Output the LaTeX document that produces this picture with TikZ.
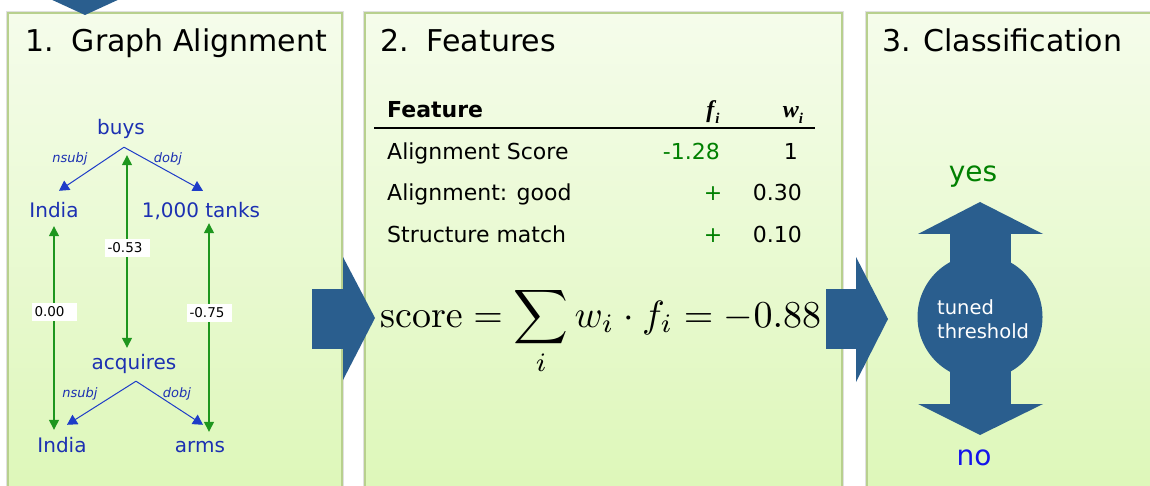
\documentclass[tikz,border=0pt]{standalone}
\usepackage[no-math]{fontspec}
\setmainfont{DejaVu Sans}
\newfontfamily\serifbi{Liberation Serif}
\usetikzlibrary{arrows.meta}
\definecolor{ptop}{RGB}{245,252,235}
\definecolor{pbot}{RGB}{220,247,182}
\definecolor{pborder}{RGB}{184,208,142}
\definecolor{flowblue}{RGB}{42,94,142}
\definecolor{gblue}{RGB}{28,48,178}
\definecolor{depblue}{RGB}{30,60,200}
\definecolor{agreen}{RGB}{30,150,30}
\definecolor{tgreen}{RGB}{0,128,0}
\definecolor{noblue}{RGB}{20,20,235}
\begin{document}
\begin{tikzpicture}[x=1pt,y=-1pt,
  panel/.style={draw=pborder, line width=1.2pt, top color=ptop, bottom color=pbot},
  panelshadow/.style={draw=black!12, line width=4pt},
  flow/.style={fill=flowblue, draw=none},
  title/.style={font=\fontsize{30}{36}\selectfont, anchor=base west, inner sep=0pt},
  word/.style={text=gblue, font=\fontsize{20}{24}\selectfont, inner sep=0pt, text height=15pt, text depth=5pt, anchor=base},
  dep/.style={draw=depblue, line width=1pt, -{Triangle[length=10pt,width=11pt]}},
  deplab/.style={text=gblue, font=\fontsize{13}{15}\selectfont\itshape, anchor=base, inner sep=0pt},
  alignedge/.style={draw=agreen, line width=1.3pt, {Triangle[length=10pt,width=10pt]}-{Triangle[length=10pt,width=10pt]}},
  simlab/.style={fill=white, font=\fontsize{13.5}{15}\selectfont, inner xsep=3pt, inner ysep=4pt, text width=39pt, align=left},
  cell/.style={font=\fontsize{22}{26}\selectfont, inner sep=0pt, anchor=base west},
  num/.style={font=\fontsize{22}{26}\selectfont, inner sep=0pt, anchor=base east},
  hdr/.style={font=\fontsize{24}{28}\serifbi\bfseries\itshape, inner sep=0pt, anchor=base},
  thrtext/.style={anchor=base west, inner sep=0pt, text=white, font=\fontsize{19.5}{24}\selectfont}
]
\useasboundingbox (0,0) rectangle (1150,486);
\clip (0,0) rectangle (1150,486);
\fill[white] (0,0) rectangle (1150,486);

% panels
\draw[panelshadow] (8,13) rectangle (342,520);
\draw[panelshadow] (365,13) rectangle (842,520);
\draw[panelshadow] (867,13) rectangle (1170,520);
\draw[panel] (8,13) rectangle (342,520);
\draw[panel] (365,13) rectangle (842,520);
\draw[panel] (867,13) rectangle (1170,520);

% titles
\node[title] (t1) at (25,52) {1.\hspace{0.6em}Graph Alignment};
\node[title] (t2) at (380,52) {2.\hspace{0.6em}Features};
\node[title] (t3) at (882,52) {3. Classification};

% incoming arrow at top
\fill[flow] (48,-2) -- (122,-2) -- (85,15) -- cycle;

% graph words
\node[word] (buys) at (121,135) {buys};
\node[word] (india1) at (54,218) {India};
\node[word] (tanks) at (201,218) {1,000 tanks};
\node[word] (acq) at (134,369) {acquires};
\node[word] (india2) at (62,452) {India};
\node[word] (arms) at (200,452) {arms};

% dependency edges
\draw[dep] ([shift={(3,7)}]buys.south) -- ([shift={(5,-12)}]india1.north);
\draw[dep] ([shift={(3,7)}]buys.south) -- ([shift={(2,-12)}]tanks.north);
\draw[dep] ([shift={(2,7)}]acq.south) -- ([shift={(5,-12)}]india2.north);
\draw[dep] ([shift={(2,7)}]acq.south) -- ([shift={(3,-12)}]arms.north);
\node[deplab] (l1) at (70,163) {nsubj};
\node[deplab] (l2) at (168,163) {dobj};
\node[deplab] (l3) at (80,397) {nsubj};
\node[deplab] (l4) at (177,397) {dobj};

% alignment edges
\draw[alignedge] ([shift={(0,3)}]india1.south) -- node[simlab, pos=0.42] (s1) {0.00} ([shift={(-8,-7)}]india2.north);
\draw[alignedge] ([shift={(6,15)}]buys.south) -- node[simlab, pos=0.48] (s2) {-0.53} ([shift={(-7,-6)}]acq.north);
\draw[alignedge] ([shift={(8,0)}]tanks.south) -- node[simlab, pos=0.43] (s3) {-0.75} ([shift={(9,-5)}]arms.north);

% table
\node[cell, font=\fontsize{22}{26}\selectfont\bfseries] (hf) at (387,118) {Feature};
\node[hdr] (hfi) at (713,118) {f\kern1pt\raisebox{-0.25em}{\fontsize{15}{17}\selectfont i}};
\node[hdr] (hwi) at (793,118) {w\raisebox{-0.25em}{\fontsize{15}{17}\selectfont i}};
\draw[line width=1.3pt] (374,128) -- (815,128);
\node[cell] (r1) at (387,160) {Alignment Score};
\node[num, text=tgreen] (r1f) at (720,160) {-1.28};
\node[num] (r1w) at (798,160) {1};
\node[cell] (r2) at (387,201) {Alignment: good};
\node[num, text=tgreen, anchor=base] (r2f) at (713,201) {+};
\node[num] (r2w) at (802,201) {0.30};
\node[cell] (r3) at (387,243) {Structure match};
\node[num, text=tgreen, anchor=base] (r3f) at (713,243) {+};
\node[num] (r3w) at (802,243) {0.10};

% formula
\node[anchor=base west, inner sep=0pt] (score) at (380,327)
  {\scalebox{3.8}{$\displaystyle \mathrm{score} = \sum_i w_i \cdot f_i = -0.88$}};

% flow arrows between panels
\fill[flow] (312,289) rectangle (344,349);
\fill[flow] (343,257) -- (375,318) -- (343,380) -- cycle;
\fill[flow] (826,289) rectangle (857,349);
\fill[flow] (856,257) -- (888,319) -- (856,382) -- cycle;

% classification double arrow
\fill[flow] (980,317) circle[radius=62.5];
\fill[flow] (950,234) rectangle (1011,404);
\fill[flow] (918,234) -- (980,202) -- (1043,234) -- cycle;
\fill[flow] (918,404) -- (980,435) -- (1043,404) -- cycle;
\node[thrtext] (thr1) at (937,314) {tuned};
\node[thrtext] (thr2) at (937,338) {threshold};
\node[anchor=base, inner sep=0pt, text=tgreen, font=\fontsize{28}{32}\selectfont] (yes) at (973,182) {yes};
\node[anchor=base, inner sep=0pt, text=noblue, font=\fontsize{28}{32}\selectfont] (no) at (974,465) {no};
\end{tikzpicture}
\end{document}
